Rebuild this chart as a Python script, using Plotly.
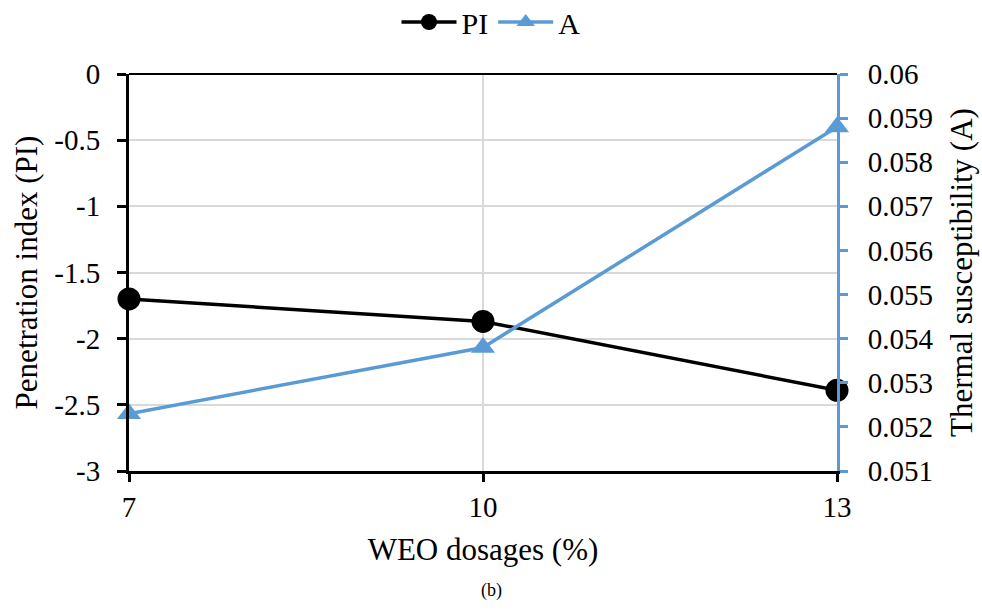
import plotly.graph_objects as go

dosages = [7, 10, 13]
pi_values = [-1.70, -1.87, -2.39]
a_values = [0.0523, 0.0538, 0.0588]

left_ticks = [0, -0.5, -1, -1.5, -2, -2.5, -3]
left_labels = ["0", "-0.5", "-1", "-1.5", "-2", "-2.5", "-3"]
right_ticks = [0.051, 0.052, 0.053, 0.054, 0.055, 0.056, 0.057, 0.058, 0.059, 0.06]
right_labels = ["0.051", "0.052", "0.053", "0.054", "0.055", "0.056", "0.057", "0.058", "0.059", "0.06"]

FONT = "Times New Roman"
BLUE = "#5b9bd5"
FS = 29
TS = 31

fig = go.Figure()
fig.add_trace(go.Scatter(
    x=dosages, y=pi_values, name="PI", mode="lines+markers",
    line=dict(color="black", width=3.5),
    marker=dict(symbol="circle", size=23, color="black"),
    yaxis="y", cliponaxis=False,
))
fig.add_trace(go.Scatter(
    x=dosages, y=a_values, name="A", mode="lines+markers",
    line=dict(color=BLUE, width=3.5),
    marker=dict(symbol="triangle-up", size=21, color=BLUE),
    yaxis="y2", cliponaxis=False,
))

plot_h = 613 - 74 - 142
plot_w = 982 - 129 - 145

fig.update_layout(
    width=982, height=613,
    margin=dict(l=129, r=145, t=74, b=142, autoexpand=False),
    paper_bgcolor="white", plot_bgcolor="white",
    font=dict(family=FONT, size=FS, color="black"),
    showlegend=True,
    legend=dict(orientation="h", x=0.5 + 8 / plot_w, xanchor="center",
                y=1 + (74 - 22) / plot_h, yanchor="middle",
                font=dict(family=FONT, size=30), tracegroupgap=0,
                itemwidth=55, bgcolor="rgba(0,0,0,0)"),
    xaxis=dict(
        range=[7, 13], tickvals=dosages, ticktext=[str(d) for d in dosages],
        showgrid=True, gridcolor="#d9d9d9", gridwidth=1.5,
        showline=True, linecolor="black", linewidth=3,
        ticks="outside", ticklen=8, tickwidth=3, tickcolor="black",
        zeroline=False,
        title=dict(text="WEO dosages (%)", font=dict(family=FONT, size=TS), standoff=17),
        tickfont=dict(family=FONT, size=FS),
    ),
    yaxis=dict(
        range=[-3, 0], tickvals=left_ticks, ticktext=left_labels,
        showgrid=True, gridcolor="#d9d9d9", gridwidth=1.5,
        showline=True, linecolor="black", linewidth=3,
        ticks="outside", ticklen=9, tickwidth=3, tickcolor="black",
        ticklabelstandoff=11,
        zeroline=True, zerolinecolor="black", zerolinewidth=2,
        title=dict(text="Penetration index (PI)", font=dict(family=FONT, size=TS), standoff=8),
        tickfont=dict(family=FONT, size=FS),
    ),
    yaxis2=dict(
        range=[0.051, 0.06], tickvals=right_ticks, ticktext=right_labels,
        overlaying="y", side="right", showgrid=False, zeroline=False,
        showline=True, linecolor=BLUE, linewidth=3,
        ticks="outside", ticklen=8, tickwidth=3, tickcolor=BLUE,
        ticklabelstandoff=14,
        title=dict(text="Thermal susceptibility (A)", font=dict(family=FONT, size=TS), standoff=18),
        tickfont=dict(family=FONT, size=FS),
    ),
    annotations=[dict(text="(b)", x=0.5 + 8 / plot_w, xref="paper",
                      y=-(590 - (613 - 142)) / plot_h, yref="paper", yanchor="middle",
                      showarrow=False, font=dict(family=FONT, size=18))],
)

fig.write_html("out.html")
